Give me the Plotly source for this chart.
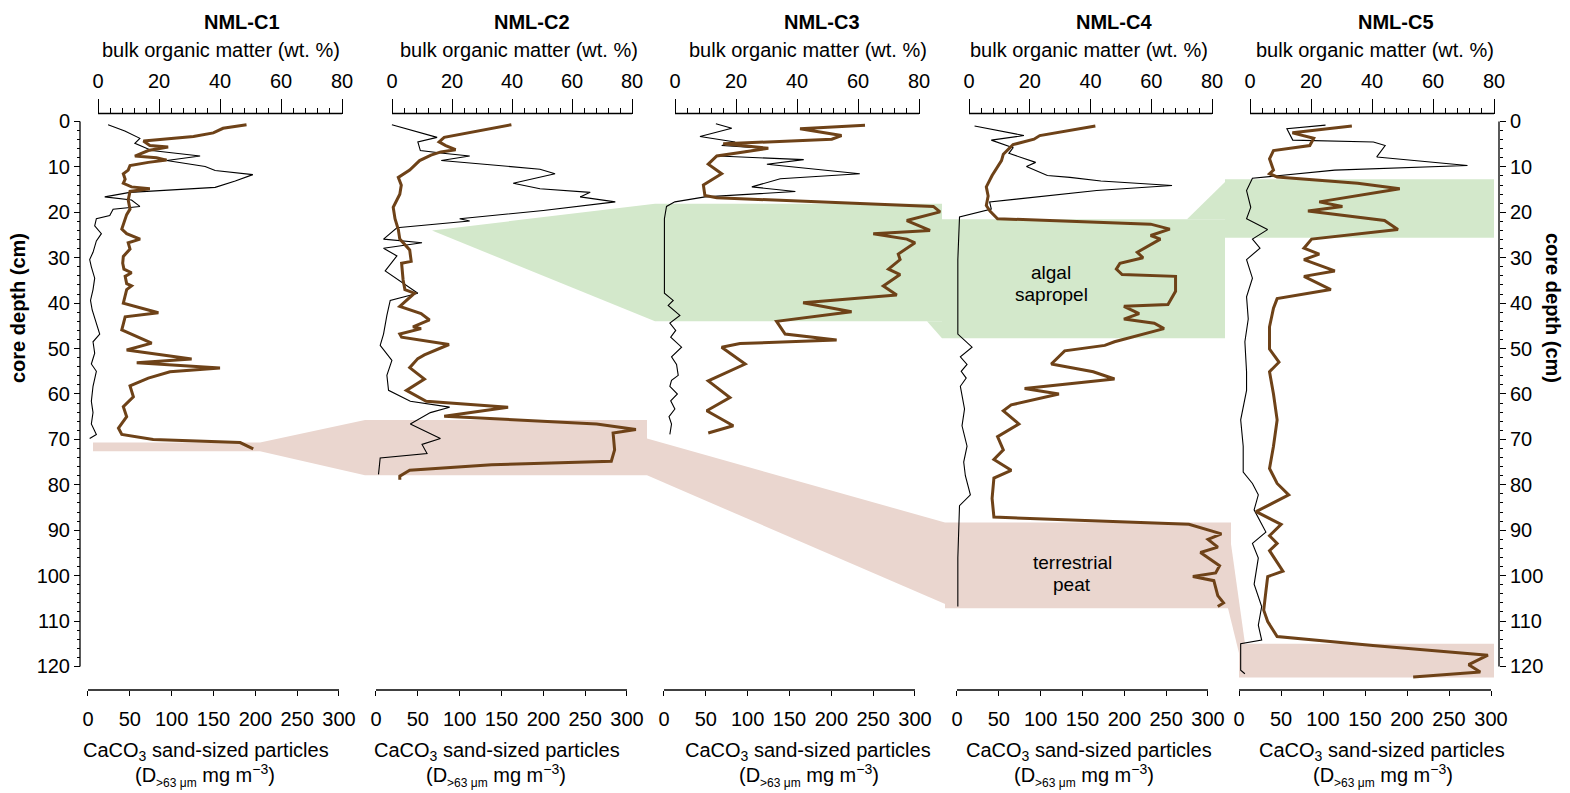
import plotly.graph_objects as go

W, H = 1570, 793
FONT = "Liberation Sans, Arial, Helvetica, sans-serif"
BROWN = "#6E4218"
GREEN = "#D3E8CB"
PINK = "#EAD6CF"

core_names = ["NML-C1", "NML-C2", "NML-C3", "NML-C4", "NML-C5"]

# ---- bulk organic matter (wt. %) against core depth (cm) ----
c1_om_depth = [0.7, 1.5, 2.5, 3.3, 4.3, 5.3, 5.6, 6.4, 7.6, 8.0, 8.5, 9.0, 9.7, 10.7, 11.5, 12.7, 13.6,
               14.4, 14.8, 15.4, 17.3, 19.3, 20.5, 23.7, 24.7, 25.9, 26.7, 28.1, 29.7, 31.2, 32.5, 33.3,
               34.1, 35.7, 36.2, 37.0, 40.0, 42.1, 43.0, 45.9, 48.8, 50.3, 52.3, 53.1, 54.3, 55.1, 56.5,
               58.2, 60.6, 62.8, 65.0, 67.5, 68.9, 70.0, 70.7, 72.1]
c1_om = [48.7, 41, 37.8, 31.3, 14.9, 17, 23, 16.5, 12.1, 19.2, 22.5, 16.5, 10.5, 9.9, 8.3, 8.9, 8.3,
         11, 17, 10.5, 9.9, 10.5, 9.4, 7.8, 9.4, 13.8, 9.9, 10.5, 8.3, 8.1, 8.5, 11,
         8.9, 9.4, 11, 9.4, 8.3, 19.8, 8.9, 7.8, 17.6, 9.4, 30.7, 12.7, 40, 23.6, 16.5,
         10.5, 11.6, 8.3, 9.4, 6.7, 7.8, 18.1, 46.6, 50.9]

c2_om_depth = [0.7, 3.5, 4.5, 5.3, 6.2, 6.7, 7.4, 8.6, 10.7, 12.3, 14.0, 16.0, 18.9, 21.4, 23.8, 25.9,
               28.3, 30.8, 31.2, 34.9, 37.0, 37.8, 40.7, 42.3, 43.7, 45.2, 45.6, 46.8, 47.5, 49.1, 51.4,
               52.2, 54.2, 56.7, 59.2, 61.6, 62.9, 64.9, 66.6, 67.8, 68.6, 72.3, 74.8, 75.6, 76.8, 78.1, 78.9]
c2_om = [39.8, 17.4, 15.7, 17.9, 21.2, 16.3, 13, 9.2, 5.9, 2.1, 3.1, 2.6, 0.4, 1, 2.1, 2.6,
         5.9, 6.4, 3.2, 3.7, 4.3, 7.5, 2.6, 9.7, 12.5, 7, 9.7, 2.6, 3.2, 19, 10.8,
         8.6, 5.9, 10.8, 4.8, 11.4, 38.7, 17.4, 68.2, 81.3, 73.7, 74.2, 73.1, 33.2, 5.9, 2.6, 2.6]

c3_om_depth = [0.8, 1.6, 3.1, 3.9, 4.9, 5.9, 7.6, 9.4, 11.5, 14.0, 16.3, 16.8, 18.7, 19.9, 21.8, 24.0,
               24.7, 25.9, 26.7, 29.2, 30.4, 32.5, 33.7, 36.2, 38.2, 39.9, 41.9, 44.0, 46.8, 48.1, 48.9,
               49.7, 53.4, 57.1, 60.8, 63.7, 67.0, 68.6]
c3_om = [62.3, 41, 54.6, 51.4, 15.8, 30.6, 13.7, 10.9, 15.3, 9.3, 9.8, 13.7, 84.7, 86.9, 76, 83.6,
         65, 76, 78.7, 73.2, 73.8, 70, 73.8, 68.3, 72.7, 42, 57.9, 33.3, 36.1, 53, 21.3,
         15.3, 23, 10.9, 18, 10.4, 19.1, 10.9]

c4_om_depth = [1.0, 3.1, 3.9, 5.1, 7.2, 8.6, 11.9, 14.4, 16.4, 18.5, 19.7, 21.4, 22.6, 23.7, 25.1, 25.9,
               28.8, 30.0, 31.2, 32.5, 33.7, 34.1, 37.4, 40.3, 40.7, 42.3, 43.5, 44.4, 45.6, 48.5, 49.3,
               50.5, 53.4, 55.1, 56.7, 58.8, 60.0, 62.4, 63.7, 66.6, 69.4, 72.3, 74.4, 76.8, 78.5, 83.0,
               87.1, 88.7, 90.8, 92.0, 93.7, 94.9, 97.8, 99.4, 100.2, 101.1, 104.4, 106.0, 106.8]
c4_om = [41.6, 23.3, 21.4, 14.5, 11.3, 10.7, 7.6, 5.7, 6.3, 5.7, 6.9, 9.4, 59.8, 66.1, 59.8, 63,
         55.4, 57.3, 49.7, 48.5, 50.4, 68, 68, 65.5, 51, 56, 51, 61, 64.2, 47.9, 44.7,
         31.5, 27.1, 40.9, 47.9, 18.3, 29.6, 13.9, 11.3, 16.4, 9.4, 11.3, 8.2, 13.9, 8.2, 7.6,
         8.2, 72.4, 83.1, 78.7, 81.9, 76.2, 82.5, 81.2, 73.7, 80.6, 81.9, 83.8, 81.9]

c5_om_depth = [1.0, 2.5, 3.7, 5.3, 6.4, 8.2, 10.7, 11.5, 12.2, 13.6, 14.8, 17.7, 18.7, 19.7, 21.8, 23.8,
               25.9, 27.9, 29.2, 30.4, 32.9, 34.1, 37.0, 39.0, 41.1, 45.2, 50.1, 53.0, 55.1, 60.0, 65.7,
               71.5, 76.4, 79.7, 82.2, 85.9, 88.7, 91.2, 92.9, 94.5, 99.0, 100.2, 103.5, 107.6, 110.1,
               113.4, 115.4, 117.5, 119.6, 121.2, 122.3]
c5_om = [33.4, 13.9, 20.9, 19.6, 7.7, 6.4, 7.7, 6.4, 8.9, 35.3, 49.1, 22.7, 30.3, 19, 44.1, 48.5,
         20.2, 17.7, 22.7, 17.7, 27.8, 17.7, 26.5, 8.9, 7.7, 6.4, 6.4, 9.5, 6.4, 7.7, 8.9,
         7.7, 6.4, 8.9, 12.7, 2, 10.2, 6.4, 8.9, 6.4, 10.8, 5.8, 5.2, 4.5, 5.8,
         8.9, 40.3, 78, 71.7, 75.5, 53.5]

# ---- CaCO3 sand-sized particles (mg m-3) against core depth (cm) ----
c1_ca_depth = [0.7, 2.1, 3.7, 4.8, 6.4, 7.6, 8.6, 9.9, 10.8, 11.7, 13.1, 14.5, 15.6, 16.6, 17.3, 18.7,
               19.3, 20.7, 21.4, 23.0, 24.7, 26.3, 28.8, 30.4, 32.0, 34.5, 37.0, 39.4, 41.5, 44.4, 46.8,
               48.5, 51.0, 53.4, 55.0, 58.3, 61.6, 64.1, 66.6, 68.9, 69.8]
c1_ca = [24, 44, 62, 56, 76, 134, 94, 140, 152, 197, 176, 152, 50, 20, 52, 62,
         30, 26, 10, 8, 16, 10, 6, 2, 4, 8, 6, 3, 5, 10, 14,
         6, 8, 4, 10, 6, 4, 6, 4, 10, 2]

c2_ca_depth = [0.7, 3.5, 4.5, 6.4, 7.0, 7.6, 8.6, 10.5, 11.5, 13.6, 14.8, 15.6, 16.6, 17.7, 19.6, 21.4,
               21.9, 23.4, 25.9, 26.7, 27.9, 29.6, 32.9, 37.8, 39.4, 42.7, 46.8, 49.3, 52.6, 55.9, 59.2,
               61.6, 62.9, 64.1, 66.6, 69.8, 71.1, 73.1, 74.1, 77.7]
c2_ca = [19, 73, 50, 53, 80, 112, 78, 196, 214, 164, 196, 256, 244, 286, 200, 100,
         112, 25, 9, 55, 9, 25, 11, 50, 17, 13, 9, 5, 19, 13, 15,
         41, 88, 65, 41, 77, 55, 61, 5, 3]

c3_ca_depth = [0.5, 1.5, 3.3, 4.5, 5.3, 5.9, 7.6, 8.4, 9.4, 11.5, 12.6, 14.4, 15.4, 16.6, 17.7, 18.7,
               21.4, 30.4, 37.8, 39.4, 40.5, 42.7, 44.4, 46.0, 47.5, 49.7, 51.8, 53.5, 55.9, 57.0, 58.3,
               60.0, 61.5, 63.3, 65.0, 66.6, 68.9]
c3_ca = [62, 81, 43, 85, 69, 119, 65, 167, 123, 234, 139, 105, 157, 49, 13, 3,
         0.5, 0.5, 0.5, 11, 5, 19, 7, 14, 8, 21, 9, 15, 17, 9, 7,
         16, 8, 13, 6, 9, 7]

c4_ca_depth = [1.0, 3.1, 4.1, 5.8, 7.0, 9.0, 9.9, 11.9, 12.3, 13.1, 14.1, 15.2, 17.1, 17.7, 19.3, 21.0,
               30.4, 46.8, 49.7, 51.8, 53.5, 55.0, 56.5, 58.3, 63.3, 67.0, 71.5, 75.0, 78.0, 82.2, 84.6,
               96.1, 106.8]
c4_ca = [21, 80, 41, 67, 62, 94, 83, 108, 135, 172, 257, 167, 71, 39, 41, 3,
         1, 1, 18, 4, 12, 5, 11, 4, 9, 6, 12, 8, 10, 16, 3,
         1, 1]

c5_ca_depth = [0.8, 1.6, 4.1, 4.5, 5.3, 7.8, 9.7, 10.7, 12.5, 15.2, 18.9, 21.4, 23.8, 25.9, 27.9, 30.4,
               34.5, 38.6, 43.5, 48.5, 55.1, 59.2, 65.7, 71.5, 77.2, 79.7, 82.2, 85.5, 90.4, 92.9, 96.1,
               101.9, 106.8, 110.9, 114.2, 115.0, 120.8, 121.6]
c5_ca = [103, 57, 64, 160, 174, 164, 272, 114, 16, 9, 14, 9, 34, 16, 25, 9,
         16, 9, 11, 7, 9, 9, 2, 5, 5, 16, 23, 18, 32, 16, 23,
         18, 27, 23, 27, 2, 2, 7]

om_depths = [c1_om_depth, c2_om_depth, c3_om_depth, c4_om_depth, c5_om_depth]
om_values = [c1_om, c2_om, c3_om, c4_om, c5_om]
ca_depths = [c1_ca_depth, c2_ca_depth, c3_ca_depth, c4_ca_depth, c5_ca_depth]
ca_values = [c1_ca, c2_ca, c3_ca, c4_ca, c5_ca]

# facies boundaries per core (cm); None where the unit is absent
peat_top = [70.7, 65.7, None, 88.3, 115.0]
peat_base = [72.6, 77.9, None, 107.2, 122.4]
sapropel_top = [None, 24.0, 18.1, 21.5, 12.7]
sapropel_base = [None, 24.0, 44.0, 47.7, 25.6]

om_ticks = [0, 20, 40, 60, 80]
ca_ticks = [0, 50, 100, 150, 200, 250, 300]
depth_ticks = list(range(0, 121, 10))


def fx(px):
    return px / W


def fy(py):
    return 1 - py / H


# panel geometry (pixels)
bottom_px = [(88, 339), (376, 627), (664, 915), (957, 1208), (1239, 1491)]
top_px = [(98, 342), (392, 632), (675, 919), (969, 1212), (1250, 1494)]
TOP_LINE_Y = 113.5
BOT_LINE_Y = 690
LEFT_AX_X = 80
RIGHT_AX_X = 1499
D0_Y, D120_Y = 121.5, 666.5
ppc = (D120_Y - D0_Y) / 120.0
Y_RANGE = (124, -2)
y_dom = [fy(D0_Y + Y_RANGE[0] * ppc), fy(D0_Y + Y_RANGE[1] * ppc)]

fig = go.Figure()
layout = dict(
    width=W, height=H, margin=dict(l=0, r=0, t=0, b=0, pad=0, autoexpand=False),
    paper_bgcolor="white", plot_bgcolor="rgba(0,0,0,0)",
    showlegend=False, hovermode=False,
    font=dict(family=FONT, size=20, color="black"),
)
shapes = []
annotations = []

CA_MIN, OM_MIN, OM_MAX = -8, -4, 90
for i in range(5):
    b0, b1 = bottom_px[i]
    t0, t1 = top_px[i]
    sb = (b1 - b0) / 300.0
    st = (t1 - t0) / 80.0
    bid, tid = 2 * i + 1, 2 * i + 2
    bkey = "xaxis" if bid == 1 else f"xaxis{bid}"
    tkey = f"xaxis{tid}"
    layout[bkey] = dict(
        domain=[fx(b0 + CA_MIN * sb), fx(b1)], range=[CA_MIN, 300], anchor="free",
        position=fy(BOT_LINE_Y), side="bottom", showgrid=False, zeroline=False, showline=False,
        tickmode="array", tickvals=ca_ticks, ticks="outside", ticklen=5, tickwidth=1,
        tickcolor="black", tickfont=dict(size=20, family=FONT), ticklabelstandoff=6,
        automargin=False,
    )
    layout[tkey] = dict(
        domain=[fx(t0 + OM_MIN * st), fx(t0 + OM_MAX * st)], range=[OM_MIN, OM_MAX], anchor="free",
        position=fy(TOP_LINE_Y), side="top", showgrid=False, zeroline=False, showline=False,
        tickmode="array", tickvals=om_ticks, ticks="outside", ticklen=15, tickwidth=1,
        tickcolor="black", tickfont=dict(size=20, family=FONT), ticklabelstandoff=3,
        automargin=False,
        minor=dict(tickmode="array", tickvals=[v for v in range(0, 81, 4) if v % 20],
                   ticks="outside", ticklen=6, tickwidth=1, tickcolor="black"),
    )
    bref = "x" if bid == 1 else f"x{bid}"
    tref = f"x{tid}"
    shapes.append(dict(type="line", xref=bref, yref="paper", x0=0, x1=300,
                       y0=fy(BOT_LINE_Y), y1=fy(BOT_LINE_Y), line=dict(color="black", width=1.3)))
    shapes.append(dict(type="line", xref=tref, yref="paper", x0=0, x1=80,
                       y0=fy(TOP_LINE_Y), y1=fy(TOP_LINE_Y), line=dict(color="black", width=1.3)))

    fig.add_trace(go.Scatter(x=om_values[i], y=om_depths[i], xaxis=tref, yaxis="y", mode="lines",
                             line=dict(color=BROWN, width=3), hoverinfo="skip"))
    fig.add_trace(go.Scatter(x=ca_values[i], y=ca_depths[i], xaxis=bref, yaxis="y", mode="lines",
                             line=dict(color="black", width=1.1), hoverinfo="skip"))

minor_depth = [v for v in range(0, 121, 2) if v % 10]
ycommon = dict(
    domain=y_dom, range=list(Y_RANGE), showgrid=False, zeroline=False, showline=False,
    tickmode="array", tickvals=depth_ticks, ticks="outside", ticklen=6, tickwidth=1,
    tickcolor="black", tickfont=dict(size=20, family=FONT), anchor="free", automargin=False,
    minor=dict(tickmode="array", tickvals=minor_depth, ticks="outside", ticklen=3,
               tickwidth=1, tickcolor="black"),
)
layout["yaxis"] = dict(ycommon, side="left", position=fx(LEFT_AX_X))
layout["yaxis2"] = dict(ycommon, side="right", position=fx(RIGHT_AX_X), overlaying="y")
fig.add_trace(go.Scatter(x=[None], y=[None], xaxis="x9", yaxis="y2", mode="lines",
                         showlegend=False, hoverinfo="skip"))

for xa in (LEFT_AX_X, RIGHT_AX_X):
    shapes.append(dict(type="line", xref="paper", yref="y", x0=fx(xa), x1=fx(xa), y0=0, y1=120,
                       line=dict(color="black", width=1.3)))


def poly(points, color):
    path = "M " + " L ".join(f"{fx(px):.5f},{d:.2f}" for px, d in points) + " Z"
    return dict(type="path", xref="paper", yref="y", path=path, fillcolor=color,
                line=dict(width=0), layer="below")


# terrestrial peat: unit in each core and the correlation between cores
pt, pb = peat_top, peat_base
shapes += [
    poly([(93, pt[0]), (260, pt[0]), (260, pb[0]), (93, pb[0])], PINK),
    poly([(260, pt[0]), (365, pt[1]), (365, pb[1]), (260, pb[0])], PINK),
    poly([(365, pt[1]), (647, pt[1]), (647, pb[1]), (365, pb[1])], PINK),
    poly([(647, 69.8), (945, pt[3]), (955, pb[3]), (647, pb[1])], PINK),
    poly([(945, pt[3]), (1231, pt[3]), (1231, pb[3]), (945, pb[3])], PINK),
    poly([(1228, pt[3]), (1245, pt[4]), (1245, pb[4]), (1228, pb[3])], PINK),
    poly([(1239, pt[4]), (1494, pt[4]), (1494, pb[4]), (1239, pb[4])], PINK),
]
# algal sapropel
st_, sb_ = sapropel_top, sapropel_base
shapes += [
    poly([(432, st_[1]), (655, st_[2]), (655, sb_[2])], GREEN),
    poly([(655, st_[2]), (942, st_[2]), (942, sb_[2]), (655, sb_[2])], GREEN),
    poly([(927, sb_[2]), (942, sb_[3]), (942, sb_[2])], GREEN),
    poly([(942, st_[3]), (1225, st_[3]), (1225, sb_[3]), (942, sb_[3])], GREEN),
    poly([(1187, st_[3]), (1225, 13.3), (1225, st_[3])], GREEN),
    poly([(1225, st_[4]), (1494, st_[4]), (1494, sb_[4]), (1225, sb_[4])], GREEN),
]


def label(text, px, py, size=20, angle=0):
    annotations.append(dict(text=text, x=fx(px), y=fy(py), xref="paper", yref="paper",
                            xanchor="center", yanchor="middle", showarrow=False,
                            textangle=angle, font=dict(family=FONT, size=size, color="black")))


title_x = [242, 532, 822, 1114, 1396]
om_label_x = [221, 519, 808, 1089, 1375]
ca_label_x = [206, 497, 808, 1089, 1382]
ca_label2_x = [205, 496, 809, 1084, 1383]
for i in range(5):
    label(f"<b>{core_names[i]}</b>", title_x[i], 22)
    label("bulk organic matter (wt. %)", om_label_x[i], 50)
    label("CaCO<sub>3</sub> sand-sized particles", ca_label_x[i], 751)
    label("(D<sub><span style='font-size:12px'>&gt;63 μm</span></sub> mg m<sup>−3</sup>)",
          ca_label2_x[i], 775)

label("<b>core depth (cm)</b>", 18, 308, angle=-90)
label("<b>core depth (cm)</b>", 1553, 308, angle=90)


def depth_py(d):
    return D0_Y + d * ppc


label("algal", 1051, depth_py(33.3), size=19)
label("sapropel", 1051, depth_py(38.2), size=19)
label("terrestrial", 1072, depth_py(97.0), size=19)
label("peat", 1072, depth_py(102.0), size=19)

layout["shapes"] = shapes
layout["annotations"] = annotations
fig.update_layout(**layout)
fig.write_html("out.html")
